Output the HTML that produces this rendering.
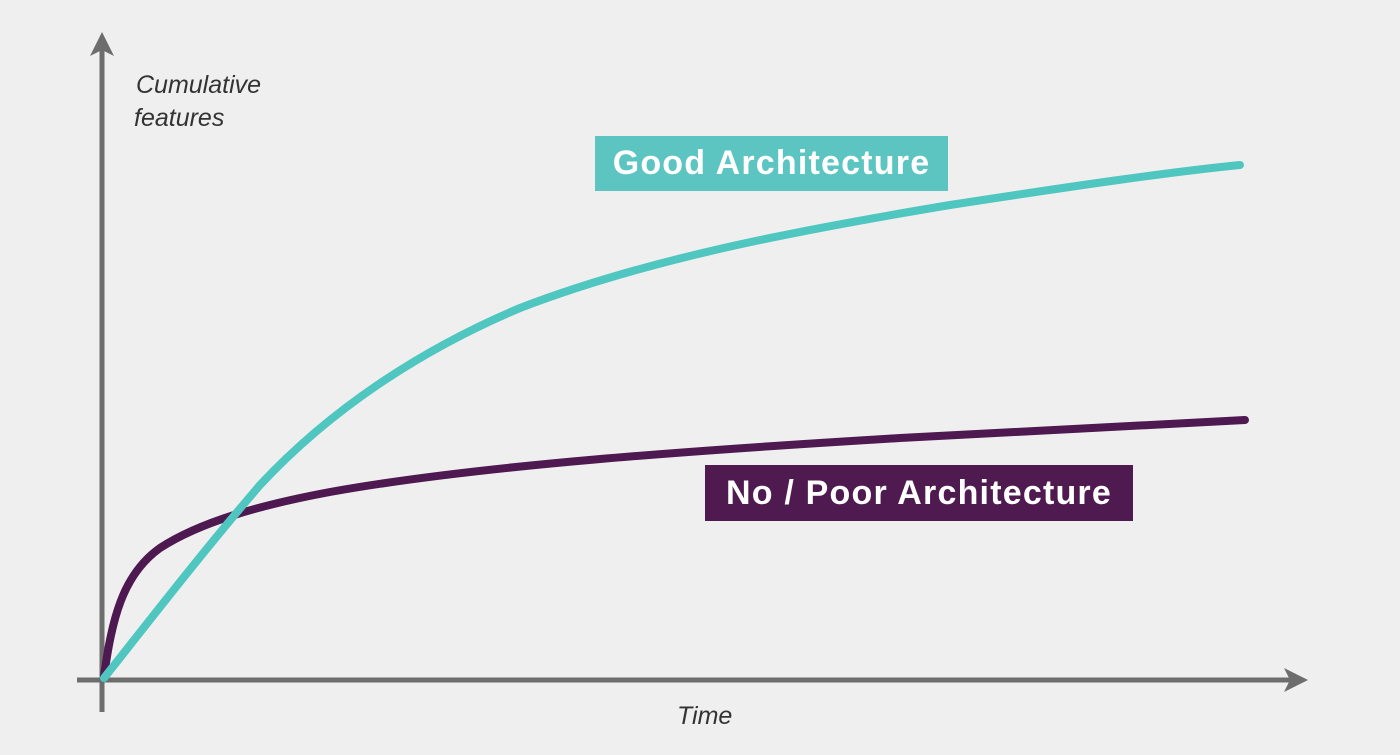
<!DOCTYPE html>
<html><head><style>
html,body{margin:0;padding:0;background:#efefef;}
.box{position:absolute;color:#fff;font-family:"Liberation Sans",sans-serif;font-weight:bold;font-size:34px;letter-spacing:1.2px;display:flex;align-items:center;justify-content:center;}
</style></head><body>
<div style="position:relative;width:1400px;height:755px;overflow:hidden;background:#efefef;">
<svg width="1400" height="755" style="position:absolute;left:0;top:0">
<g stroke="#6d6d6d" stroke-width="5" fill="none">
<line x1="102" y1="48" x2="102" y2="712"/>
<line x1="77" y1="680" x2="1295" y2="680"/>
</g>
<polygon points="102,32 90,56 102,50 114,56" fill="#6d6d6d"/>
<polygon points="1308,680 1284,668 1290,680 1284,692" fill="#6d6d6d"/>
<path d="M104,676 C112,620 122,575 160,548 C200,522 260,505 330,492 C480,465 700,450 900,438 C1050,430 1150,424 1245,420" stroke="#4e1850" stroke-width="8" fill="none" stroke-linecap="round"/>
<path d="M104,678 C150,620 200,555 260,485 C330,410 420,350 520,308 C650,258 800,230 950,205 C1080,185 1170,172 1240,165" stroke="#4fc6c0" stroke-width="8" fill="none" stroke-linecap="round"/>
<text x="136" y="93" font-family="Liberation Sans,sans-serif" font-style="italic" font-size="25" fill="#333">Cumulative</text>
<text x="134" y="126" font-family="Liberation Sans,sans-serif" font-style="italic" font-size="25" fill="#333">features</text>
<text x="677" y="724" font-family="Liberation Sans,sans-serif" font-style="italic" font-size="25" fill="#333">Time</text>
</svg>
<div class="box" style="left:595px;top:136px;width:353px;height:55px;background:#5cc5c1;">Good Architecture</div>
<div class="box" style="left:705px;top:465px;width:428px;height:56px;background:#4f1a50;">No / Poor Architecture</div>
</div>
</body></html>
